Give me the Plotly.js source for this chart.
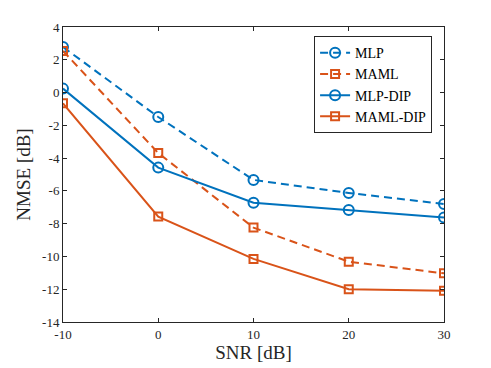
<!DOCTYPE html>
<html>
<head>
<meta charset="utf-8">
<script src="https://cdn.plot.ly/plotly-3.0.1.min.js"></script>
<style>body{margin:0;} #plot{width:491px;height:368px;}</style>
</head>
<body>
<div id="plot"></div>
<script>
// SNR values (x axis)
var snr = [-10, 0, 10, 20, 30];

// NMSE [dB] per method
var mlp = [2.78, -1.49, -5.33, -6.13, -6.8];
var maml = [2.54, -3.69, -8.24, -10.32, -11.03];
var mlpDip = [0.24, -4.58, -6.72, -7.17, -7.63];
var mamlDip = [-0.66, -7.57, -10.15, -12.0, -12.1];

// tick labels (plain hyphen like the original)
var xTicks = [-10, 0, 10, 20, 30];
var xTickText = ['-10', '0', '10', '20', '30'];
var yTicks = [-14, -12, -10, -8, -6, -4, -2, 0, 2, 4];
var yTickText = ['-14', '-12', '-10', '-8', '-6', '-4', '-2', '0', '2', '4'];

var blue = '#0072BD';
var orange = '#D95319';
var serif = '"Liberation Serif", "DejaVu Serif", serif';

function trace(y, name, color, dash, symbol) {
    return {
        x: snr,
        y: y,
        name: name,
        type: 'scatter',
        mode: 'lines+markers',
        line: {color: color, width: 2, dash: dash},
        marker: {symbol: symbol, size: symbol === 'circle-open' ? 10 : 8, color: color, line: {color: color, width: 2}}
    };
}

var data = [
    trace(mlp, 'MLP', blue, '8px,5px', 'circle-open'),
    trace(maml, 'MAML', orange, '8px,5px', 'square-open'),
    trace(mlpDip, 'MLP-DIP', blue, 'solid', 'circle-open'),
    trace(mamlDip, 'MAML-DIP', orange, 'solid', 'square-open')
];

var axisCommon = {
    showgrid: false,
    zeroline: false,
    showline: true,
    mirror: 'ticks',
    linecolor: '#262626',
    linewidth: 1,
    ticks: 'inside',
    ticklen: 4,
    tickcolor: '#262626',
    tickfont: {family: serif, size: 13, color: '#262626'}
};

var layout = {
    width: 491,
    height: 368,
    margin: {l: 63, r: 47, t: 27, b: 46},
    paper_bgcolor: 'white',
    plot_bgcolor: 'white',
    font: {family: serif, color: '#262626'},
    xaxis: Object.assign({}, axisCommon, {
        range: [-10, 30],
        tickvals: xTicks,
        ticktext: xTickText,
        title: {text: 'SNR [dB]', font: {size: 19}, standoff: 4}
    }),
    yaxis: Object.assign({}, axisCommon, {
        range: [-14, 4],
        tickvals: yTicks,
        ticktext: yTickText,
        title: {text: 'NMSE [dB]', font: {size: 19}, standoff: 6}
    }),
    legend: {
        x: 0.659,
        y: 0.969,
        xanchor: 'left',
        yanchor: 'top',
        bgcolor: 'white',
        bordercolor: '#262626',
        borderwidth: 1,
        font: {family: serif, size: 14, color: '#000'},
        tracegroupgap: 0,
        itemwidth: 30
    },
    showlegend: true
};

Plotly.newPlot('plot', data, layout, {displayModeBar: false, staticPlot: true});
</script>
</body>
</html>
